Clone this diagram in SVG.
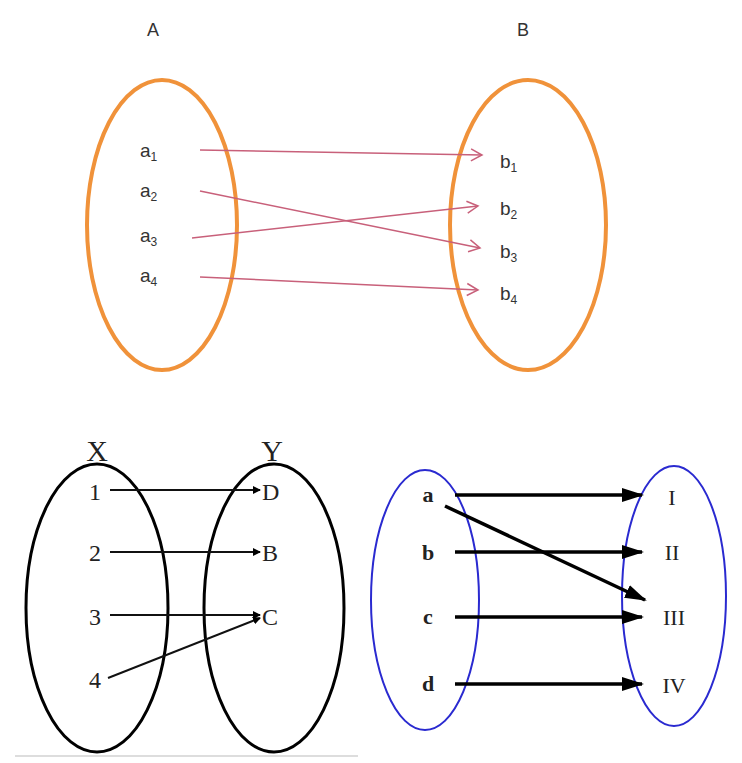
<svg xmlns="http://www.w3.org/2000/svg" width="742" height="763" viewBox="0 0 742 763">
<defs>
<style>
.orange{fill:none;stroke:#f0923a;stroke-width:4}
.blk{fill:none;stroke:#000;stroke-width:3}
.blue{fill:none;stroke:#2a2ad0;stroke-width:2}
.sans{font-family:"Liberation Sans",Arial,sans-serif;fill:#333}
.serif{font-family:"Liberation Serif","Times New Roman",serif;fill:#222}
.pink{stroke:#c8607a;stroke-width:1.5;fill:none}
.thin{stroke:#111;stroke-width:2;fill:none}
.thick{stroke:#000;stroke-width:3.5;fill:none}
</style>
<marker id="open" markerWidth="14" markerHeight="14" refX="12" refY="7" orient="auto" markerUnits="userSpaceOnUse"><path d="M1,1 L12,7 L1,13" fill="none" stroke="#c8607a" stroke-width="1.5"/></marker>
<marker id="small" markerWidth="8" markerHeight="8" refX="7" refY="4" orient="auto" markerUnits="userSpaceOnUse"><path d="M0,0 L8,4 L0,8 Z" fill="#000"/></marker>
<marker id="big" markerWidth="22" markerHeight="16" refX="20" refY="8" orient="auto" markerUnits="userSpaceOnUse"><path d="M0,1 L22,8 L0,15 Z" fill="#000"/></marker>
</defs>
<g id="setA"><ellipse class="orange" cx="162" cy="225" rx="75" ry="145"/><text class="sans" x="153" y="36" font-size="18" text-anchor="middle">A</text>
<text class="sans" font-size="19" x="140" y="157">a<tspan font-size="12" dy="4">1</tspan></text>
<text class="sans" font-size="19" x="140" y="197">a<tspan font-size="12" dy="4">2</tspan></text>
<text class="sans" font-size="19" x="140" y="242">a<tspan font-size="12" dy="4">3</tspan></text>
<text class="sans" font-size="19" x="140" y="282">a<tspan font-size="12" dy="4">4</tspan></text></g>
<g id="setB"><ellipse class="orange" cx="528" cy="225" rx="78" ry="145"/><text class="sans" x="523" y="36" font-size="18" text-anchor="middle">B</text>
<text class="sans" font-size="19" x="500" y="168">b<tspan font-size="12" dy="4">1</tspan></text>
<text class="sans" font-size="19" x="500" y="215">b<tspan font-size="12" dy="4">2</tspan></text>
<text class="sans" font-size="19" x="500" y="258">b<tspan font-size="12" dy="4">3</tspan></text>
<text class="sans" font-size="19" x="500" y="300">b<tspan font-size="12" dy="4">4</tspan></text></g>
<g id="setX"><ellipse class="blk" cx="97" cy="608" rx="71" ry="144"/><text class="serif" x="97" y="461" font-size="30" text-anchor="middle">X</text>
<g font-size="24" text-anchor="middle"><text class="serif" x="95" y="500">1</text><text class="serif" x="95" y="561">2</text><text class="serif" x="95" y="625">3</text><text class="serif" x="95" y="688">4</text></g></g>
<g id="setY"><ellipse class="blk" cx="274" cy="608" rx="70" ry="144"/><text class="serif" x="272" y="461" font-size="30" text-anchor="middle">Y</text>
<g font-size="24"><text class="serif" x="262" y="500">D</text><text class="serif" x="262" y="561">B</text><text class="serif" x="262" y="625">C</text></g></g>
<g id="setL"><ellipse class="blue" cx="425" cy="600" rx="54" ry="130"/>
<g font-size="22" font-weight="bold" text-anchor="middle"><text class="serif" x="428" y="502">a</text><text class="serif" x="428" y="560">b</text><text class="serif" x="428" y="624">c</text><text class="serif" x="428" y="691">d</text></g></g>
<g id="setR"><ellipse class="blue" cx="674" cy="596" rx="52" ry="130"/>
<g font-size="22" text-anchor="middle"><text class="serif" x="672" y="505">I</text><text class="serif" x="672" y="560">II</text><text class="serif" x="674" y="625">III</text><text class="serif" x="674" y="693">IV</text></g></g>
<g id="connectors">
<line class="pink" x1="200" y1="150" x2="482" y2="155" marker-end="url(#open)"/>
<line class="pink" x1="200" y1="191" x2="480" y2="248" marker-end="url(#open)"/>
<line class="pink" x1="192" y1="238" x2="478" y2="206" marker-end="url(#open)"/>
<line class="pink" x1="200" y1="277" x2="478" y2="290" marker-end="url(#open)"/>
<line class="thin" x1="110" y1="490" x2="260" y2="490" marker-end="url(#small)"/>
<line class="thin" x1="110" y1="552" x2="260" y2="552" marker-end="url(#small)"/>
<line class="thin" x1="110" y1="615" x2="260" y2="615" marker-end="url(#small)"/>
<line class="thin" x1="108" y1="678" x2="260" y2="618" marker-end="url(#small)"/>
<line class="thick" x1="455" y1="495" x2="642" y2="495" marker-end="url(#big)"/>
<line class="thick" x1="455" y1="552" x2="642" y2="552" marker-end="url(#big)"/>
<line class="thick" x1="455" y1="617" x2="642" y2="617" marker-end="url(#big)"/>
<line class="thick" x1="455" y1="684" x2="642" y2="684" marker-end="url(#big)"/>
<line class="thick" x1="445" y1="506" x2="645" y2="600" marker-end="url(#big)"/>
</g>
<line x1="15" y1="756" x2="358" y2="756" stroke="#ddd" stroke-width="2"/>
</svg>
